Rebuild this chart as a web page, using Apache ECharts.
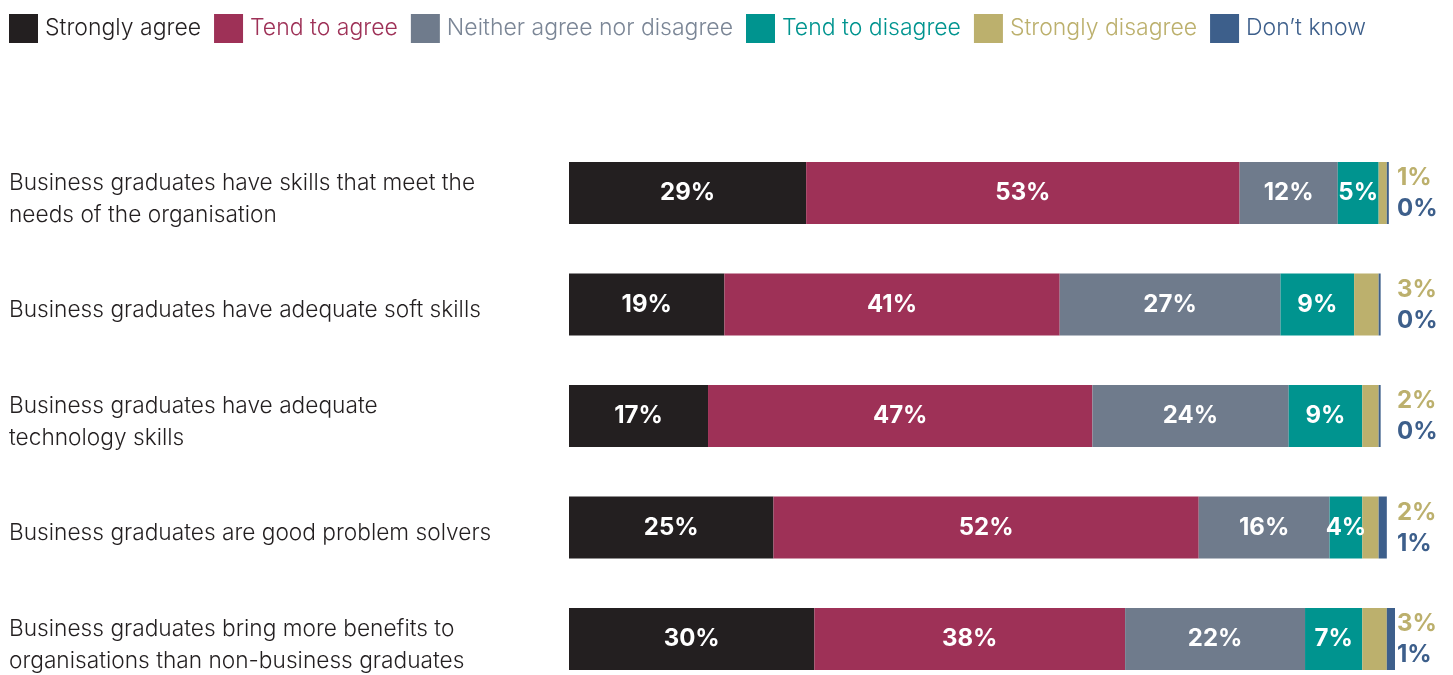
<!DOCTYPE html>
<html>
<head>
<meta charset="utf-8">
<title>Views on business graduates</title>
<script src="https://cdn.jsdelivr.net/npm/echarts@6/dist/echarts.min.js"></script>
<style>
  html, body { margin: 0; padding: 0; background: #ffffff; }
  #chart { width: 1453px; height: 675px; }
</style>
</head>
<body>
<div id="chart"></div>
<script>
// Survey statements (one bar each, top to bottom)
const categories = [
  'Business graduates have skills that meet the\nneeds of the organisation',
  'Business graduates have adequate soft skills',
  'Business graduates have adequate\ntechnology skills',
  'Business graduates are good problem solvers',
  'Business graduates bring more benefits to\norganisations than non-business graduates'
];

// Response shares, percent
const stronglyAgree    = [29, 19, 17, 25, 30];
const tendToAgree      = [53, 41, 47, 52, 38];
const neither          = [12, 27, 24, 16, 22];
const tendToDisagree   = [5, 9, 9, 4, 7];
const stronglyDisagree = [1, 3, 2, 2, 3];
const dontKnow         = [0, 0, 0, 1, 1];

const seriesNames = [
  'Strongly agree', 'Tend to agree', 'Neither agree nor disagree',
  'Tend to disagree', 'Strongly disagree', 'Don\u2019t know'
];

const colors = ['#231f20', '#9e3157', '#6f7b8c', '#00948f', '#bcb06d', '#3d5f8b'];
const legendTextColors = ['#231f20', '#9e3157', '#7b8696', '#00948f', '#bcb06d', '#3d5f8b'];

const FONT = 'Inter, "Open Sans", Lato, sans-serif';

const GRID_LEFT = 569;
const GRID_WIDTH = 826;

const chart = echarts.init(document.getElementById('chart'));

// Small end segments get their labels stacked beside the bar end
const sideLabelX = GRID_LEFT + GRID_WIDTH + 2;
function sideLabel(offsetY) {
  return function (params) {
    return {
      x: sideLabelX,
      y: params.rect.y + params.rect.height / 2 + offsetY,
      align: 'left',
      verticalAlign: 'middle'
    };
  };
}

const insideLabel = {
  show: true,
  position: 'inside',
  formatter: '{c}%',
  color: '#ffffff',
  fontFamily: FONT,
  fontWeight: 'bold',
  fontSize: 24
};

const values = [stronglyAgree, tendToAgree, neither, tendToDisagree, stronglyDisagree, dontKnow];

const series = values.map(function (data, i) {
  const s = {
    name: seriesNames[i],
    type: 'bar',
    stack: 'total',
    barWidth: 62,
    data: data,
    itemStyle: { color: colors[i] },
    emphasis: { disabled: true },
    label: insideLabel
  };
  if (i >= 4) {
    s.label = {
      show: true,
      formatter: '{c}%',
      color: colors[i],
      fontFamily: FONT,
      fontWeight: 'bold',
      fontSize: 24
    };
    s.labelLayout = sideLabel(i === 4 ? -15 : 16);
  }
  if (i === 5) {
    s.barMinHeight = 2;
  }
  return s;
});

chart.setOption({
  animation: false,
  textStyle: { fontFamily: FONT },
  legend: {
    left: 9,
    top: 14,
    padding: 0,
    itemWidth: 29,
    itemHeight: 29,
    itemGap: 13,
    icon: 'rect',
    selectedMode: false,
    data: seriesNames.map(function (n, i) {
      return { name: n, textStyle: { color: legendTextColors[i] } };
    }),
    textStyle: {
      fontFamily: FONT,
      fontSize: 23,
      fontWeight: 300,
      padding: [0, 0, 0, 2]
    }
  },
  grid: {
    left: GRID_LEFT,
    top: 137.25,
    width: GRID_WIDTH,
    height: 557.5,
    outerBoundsMode: 'none'
  },
  xAxis: {
    type: 'value',
    min: 0,
    max: 101,
    show: false
  },
  yAxis: {
    type: 'category',
    inverse: true,
    data: categories,
    axisLine: { show: false },
    axisTick: { show: false },
    splitLine: { show: false },
    axisLabel: {
      align: 'left',
      margin: GRID_LEFT - 9,
      // a short spacer line sits the statement text a little below the bar centre
      formatter: function (value) {
        return '{pad|\u200b}\n' + value.split('\n').map(function (line) {
          return '{t|' + line + '}';
        }).join('\n');
      },
      rich: {
        pad: { fontSize: 4, lineHeight: 12, height: 12 },
        t: {
          color: '#231f20',
          fontFamily: FONT,
          fontSize: 22.7,
          fontWeight: 300,
          lineHeight: 32
        }
      }
    }
  },
  series: series
});
</script>
</body>
</html>
